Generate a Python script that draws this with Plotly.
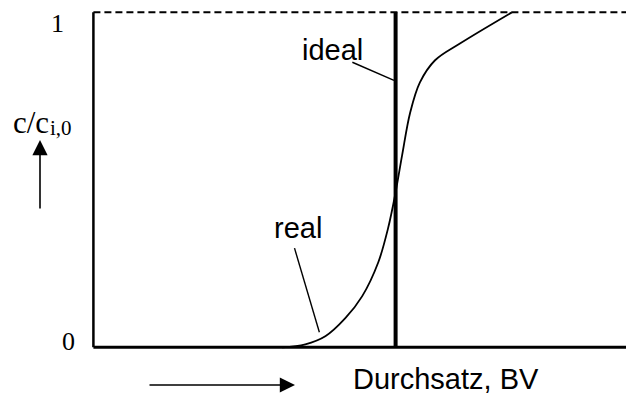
import plotly.graph_objects as go

# ---- data ----
real_x = [3.49, 3.92, 4.29, 4.66, 4.97, 5.27, 5.45, 5.58, 5.71, 5.86, 6.04, 6.32, 6.78, 7.74]
real_y = [0.0, 0.009, 0.033, 0.087, 0.152, 0.254, 0.355, 0.454, 0.573, 0.701, 0.791, 0.857, 0.907, 1.0]
ideal_x = [5.59, 5.59]
ideal_y = [0.0, 1.0]
sat_x = [0.0, 10.0]
sat_y = [1.0, 1.0]
y_tick_labels = ["0", "1"]

SERIF = "Liberation Serif, Times New Roman, serif"
SANS = "Liberation Sans, Arial, sans-serif"

# page body has an 8px margin -> figure is 8px smaller than the window
OFF = 8
W, H = 634 - OFF, 396 - OFF
L, R, T, B = 80, 0, 1, 42
PW, PH = W - L - R, H - T - B

def px(x):  # window pixel -> paper x
    return (x - OFF - L) / PW

def py(y):  # window pixel -> paper y
    return (H - B - (y - OFF)) / PH

fig = go.Figure()
fig.add_trace(go.Scatter(x=sat_x, y=sat_y, mode="lines",
                         line=dict(color="black", width=2, dash="7px,4px"), showlegend=False))
fig.add_trace(go.Scatter(x=[0, 0], y=[0, 1], mode="lines",
                         line=dict(color="black", width=2.5), showlegend=False))
fig.add_trace(go.Scatter(x=[0, 10], y=[0, 0], mode="lines",
                         line=dict(color="black", width=3), showlegend=False))
fig.add_trace(go.Scatter(x=real_x, y=real_y, mode="lines",
                         line=dict(color="black", width=1.8, shape="spline", smoothing=1.0),
                         showlegend=False))
fig.add_trace(go.Scatter(x=ideal_x, y=ideal_y, mode="lines",
                         line=dict(color="black", width=4), showlegend=False))

# leader lines
fig.add_shape(type="line", xref="x", yref="y", x0=4.79, y0=0.851, x1=5.56, y1=0.797,
              line=dict(color="black", width=1.4))
fig.add_shape(type="line", xref="x", yref="y", x0=3.72, y0=0.296, x1=4.18, y1=0.045,
              line=dict(color="black", width=1.4))

def txt(x, y, s, fam, size):
    return dict(x=px(x), y=py(y), xref="paper", yref="paper", text=s, showarrow=False,
                xanchor="center", yanchor="middle",
                font=dict(family=fam, size=size, color="black"))

ann = [
    txt(332, 50, "ideal", SANS, 29),
    txt(298, 228, "real", SANS, 29),
    txt(446, 379, "Durchsatz, BV", SANS, 29),
    txt(57.5, 24, y_tick_labels[1], SERIF, 26),
    txt(68.5, 341, y_tick_labels[0], SERIF, 26),
    txt(31, 122, "c/c", SERIF, 31),
    txt(61, 128, "i,0", SERIF, 21),
]
# arrows
ann.append(dict(x=px(40), y=py(140), xref="paper", yref="paper", text="", showarrow=True,
                ax=0, ay=70, arrowhead=2, arrowsize=1.9, arrowwidth=1.6, arrowcolor="black"))
ann.append(dict(x=px(295), y=py(385), xref="paper", yref="paper", text="", showarrow=True,
                ax=-147, ay=0, arrowhead=2, arrowsize=1.9, arrowwidth=1.6, arrowcolor="black"))

fig.update_layout(
    width=W, height=H,
    margin=dict(l=L, r=R, t=T, b=B),
    paper_bgcolor="white", plot_bgcolor="white",
    xaxis=dict(range=[-0.1, 10], visible=False, fixedrange=True),
    yaxis=dict(range=[-0.02, 1.01], visible=False, fixedrange=True),
    annotations=ann,
    showlegend=False,
)

fig.write_html("out.html")
